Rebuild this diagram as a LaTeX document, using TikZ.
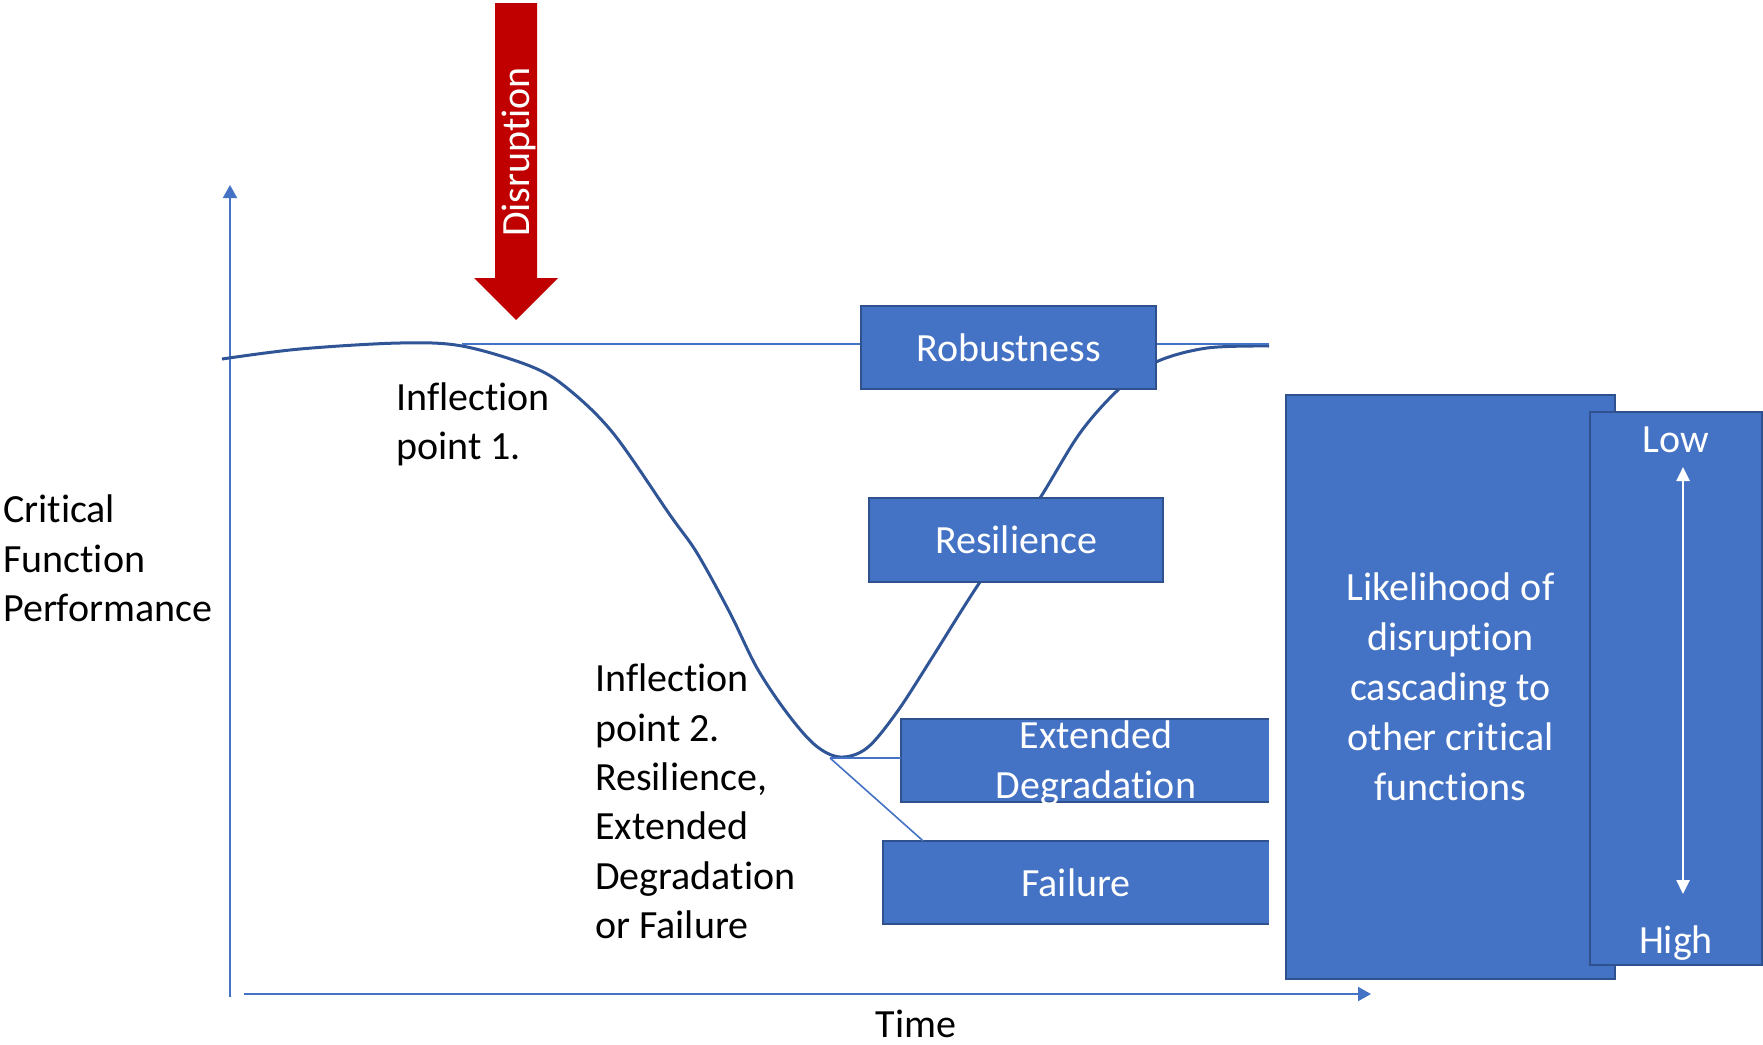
\documentclass[tikz,border=0pt]{standalone}
\usepackage{fontspec}
\setmainfont{Carlito}[Ligatures={NoCommon,NoContextual}]
\usetikzlibrary{arrows.meta}
\definecolor{boxfill}{HTML}{4472C4}
\definecolor{boxedge}{HTML}{2F528F}
\definecolor{curveblue}{HTML}{2F5597}
\definecolor{axisblue}{HTML}{4472C4}
\definecolor{alarm}{HTML}{C00000}
% keeps letter pairs such as t-i apart
\newcommand{\sep}{\kern0pt}

\begin{document}
\begin{tikzpicture}[x=1pt,y=-1pt,
  lbl/.style={font=\fontsize{40}{49}\selectfont, inner sep=0pt, align=left},
  box/.style={fill=boxfill, draw=boxedge, line width=2.5pt, text=white,
    font=\fontsize{40}{50}\selectfont, inner sep=0pt, align=center},
  openbox/.style={fill=boxfill, inner sep=0pt, text=white,
    font=\fontsize{40}{50}\selectfont, align=center},
  edge3/.style={draw=boxedge, line width=2.5pt},
  boxtext/.style={text=white, font=\fontsize{40}{50}\selectfont, inner sep=0pt, align=center},
  axis/.style={draw=axisblue, line width=2pt, -{Triangle[length=13pt,width=14pt]}},
  guide/.style={draw=axisblue, line width=1.6pt},
  perf/.style={draw=curveblue, line width=3pt, line join=round},
  scale arrow/.style={draw=white, line width=2.5pt,
    {Triangle[length=14pt,width=13pt]}-{Triangle[length=14pt,width=13pt]}}
]
\useasboundingbox (0,0) rectangle (1763,1044);

% axes
\coordinate (origin) at (230,997);
\coordinate (ytop) at (230,185);
\coordinate (xstart) at (244,994);
\coordinate (xend) at (1371,994);
\draw[axis] (origin) -- (ytop);
\draw[axis] (xstart) -- (xend);

% axis labels
\node[lbl, anchor=north west, font=\fontsize{40}{49.5}\selectfont] (ylabel) at (3,495)
  {Crit\sep ical\\Funct\sep ion\\Performance};
\node[lbl, anchor=base] (xlabel) at (916,1037) {Time};

% performance curve
\draw[perf] plot[smooth, tension=0.55] coordinates {
  (222,359) (300,349) (400,343) (462,346) (530,366) (567,388) (613,433)
  (670,515) (697,553) (730,613) (757,668) (787,713) (815,745) (840,757)
  (867,748) (897,712) (930,661) (960,613) (980,582) (1010,539) (1040,498)
  (1080,433) (1119,389) (1156,362) (1207,348) (1269,346)};

% outcome boxes
\node[box, minimum width=295pt, minimum height=83pt] (rob) at (1008.5,347.5) {Robustness};
\node[box, minimum width=294pt, minimum height=84pt] (res) at (1016,540) {Resilience};
\node[openbox, minimum width=368pt, minimum height=83pt] (ext) at (1085,760.5) {};
\draw[edge3] (ext.north east) -- (ext.north west) -- (ext.south west) -- (ext.south east);
\node[boxtext] (extlbl) at (1096,763) {Extended\\Degradat\sep ion};
\node[openbox, minimum width=386pt, minimum height=83pt] (fail) at (1076,882.5) {Failure};
\draw[edge3] (fail.north east) -- (fail.north west) -- (fail.south west) -- (fail.south east);

% reference lines
\coordinate (ip1) at (462,344);
\coordinate (tail) at (1269,344);
\draw[guide] (ip1) -- (ip1 -| rob.west);
\draw[guide] (tail -| rob.east) -- (tail);
\coordinate (ip2) at (830,758);
\coordinate (failtop) at ([xshift=-153pt]fail.north);
\draw[guide] (ip2) -- (ip2 -| ext.west);
\draw[guide] (ip2) -- (failtop);

% inflection labels
\node[lbl, anchor=north west] (inf1) at (396,383) {Inf\sep lect\sep ion\\point 1.};
\node[lbl, anchor=north west, font=\fontsize{40}{49.3}\selectfont] (inf2) at (595,664)
  {Inf\sep lect\sep ion\\point 2.\\Resilience,\\Extended\\Degradat\sep ion\\or Failure};

% disruption arrow
\fill[alarm] (495,3) -- (537,3) -- (537,278) -- (558,278) -- (516,320)
  -- (474,278) -- (495,278) -- cycle;
\node[boxtext, rotate=90] (disr) at (519,152) {Disrupt\sep ion};

% cascade likelihood
\node[box, minimum width=329pt, minimum height=584pt] (cascade) at (1450.5,687)
  {Likelihood of\\disrupt\sep ion\\cascading to\\other crit\sep ical\\funct\sep ions};
\node[box, minimum width=172pt, minimum height=553pt] (scalebox) at (1676,688.5) {};
\node[boxtext, anchor=base] (low) at (1676,452) {Low};
\node[boxtext, anchor=base] (high) at (1676,953) {High};
\coordinate (lowtip) at (1683,467);
\coordinate (hightip) at (1683,894);
\draw[scale arrow] (lowtip) -- (hightip);

\end{tikzpicture}
\end{document}
